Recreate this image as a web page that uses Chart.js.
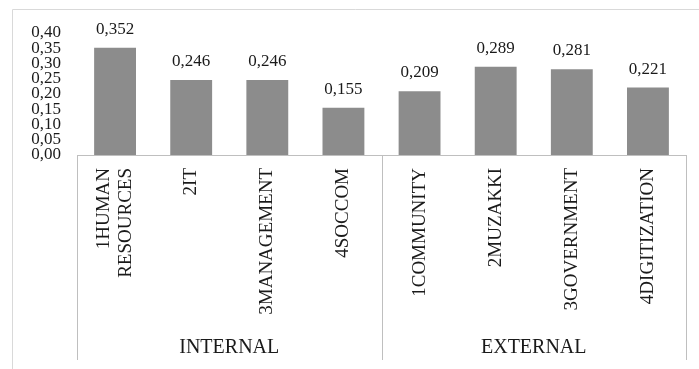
<!DOCTYPE html>
<html>
<head>
<meta charset="utf-8">
<script src="https://cdn.jsdelivr.net/npm/chart.js@4"></script>
<style>
  html, body { margin: 0; padding: 0; background: #fff; }
  canvas { display: block; }
</style>
</head>
<body>
<canvas id="grafico" width="699" height="369"></canvas>
<script>
var categorias = [["1HUMAN", "RESOURCES"], "2IT", "3MANAGEMENT", "4SOCCOM",
                  "1COMMUNITY", "2MUZAKKI", "3GOVERNMENT", "4DIGITIZATION"];
var valores = [0.352, 0.246, 0.246, 0.155, 0.209, 0.289, 0.281, 0.221];
var grupos = ["INTERNAL", "EXTERNAL"];
var tamanoGrupo = [4, 4];
var ticksY = [0, 0.05, 0.10, 0.15, 0.20, 0.25, 0.30, 0.35, 0.40];

var fuente = "'Liberation Serif', 'Times New Roman', serif";

function coma(v, dec) {
    return v.toFixed(dec).replace(".", ",");
}

// etiquetas de valor, categorias giradas y cajas de grupos
var extras = {
    id: "extras",
    afterDraw: function (chart) {
        var c = chart.ctx;
        var x = chart.scales.x;
        var area = chart.chartArea;
        c.save();

        // marco exterior
        c.strokeStyle = "#d9d9d9";
        c.lineWidth = 1;
        c.beginPath();
        c.moveTo(12.5, 369);
        c.lineTo(12.5, 9.5);
        c.lineTo(699, 9.5);
        c.stroke();

        // valores
        c.fillStyle = "#1a1a1a";
        c.font = "17px " + fuente;
        c.textAlign = "center";
        c.textBaseline = "alphabetic";
        chart.getDatasetMeta(0).data.forEach(function (bar, i) {
            c.fillText(coma(valores[i], 3), bar.x, bar.y - 14);
        });

        // categorias (giradas 90 grados)
        c.font = "19px " + fuente;
        c.textAlign = "right";
        c.textBaseline = "middle";
        categorias.forEach(function (lab, i) {
            var lineas = Array.isArray(lab) ? lab : [lab];
            c.save();
            c.translate(x.getPixelForValue(i), area.bottom + 13);
            c.rotate(-Math.PI / 2);
            lineas.forEach(function (t, j) {
                c.fillText(t, 0, (j - (lineas.length - 1) / 2) * 22);
            });
            c.restore();
        });

        // separadores y nombres de grupo
        c.strokeStyle = "#bfbfbf";
        c.beginPath();
        var paso = x.getPixelForValue(1) - x.getPixelForValue(0);
        var inicio = 0;
        var bordes = [];
        for (var g = 0; g <= grupos.length; g++) {
            bordes.push(x.getPixelForValue(inicio) - paso / 2);
            if (g < grupos.length) inicio += tamanoGrupo[g];
        }
        bordes.forEach(function (px) {
            var xx = Math.round(px) + 0.5;
            c.moveTo(xx, area.bottom);
            c.lineTo(xx, 360);
        });
        c.stroke();

        c.font = "20px " + fuente;
        c.textAlign = "center";
        for (var k = 0; k < grupos.length; k++) {
            c.fillText(grupos[k], (bordes[k] + bordes[k + 1]) / 2, 348);
        }
        c.restore();
    }
};

var myBarChart = new Chart(document.getElementById("grafico"), {
    type: "bar",
    data: {
        labels: categorias,
        datasets: [{
            label: "valor",
            data: valores,
            backgroundColor: "#8c8c8c",
            borderWidth: 0,
            barPercentage: 0.55,
            categoryPercentage: 1
        }]
    },
    options: {
        responsive: false,
        animation: false,
        devicePixelRatio: 1,
        layout: { padding: { top: 33, right: 13, left: 0, bottom: 0 } },
        plugins: {
            legend: { display: false },
            tooltip: { enabled: false }
        },
        scales: {
            x: {
                grid: { display: false, drawTicks: false },
                border: { display: true, color: "#bfbfbf", width: 1 },
                ticks: { display: false, autoSkip: false },
                afterFit: function (s) { s.height = 214; }
            },
            y: {
                min: 0,
                max: 0.4,
                grid: { display: false, drawTicks: false },
                border: { display: false },
                afterBuildTicks: function (s) {
                    s.ticks = ticksY.map(function (v) { return { value: v }; });
                },
                ticks: {
                    autoSkip: false,
                    padding: 16,
                    color: "#1a1a1a",
                    font: { family: fuente, size: 17, lineHeight: 1 },
                    callback: function (v) { return coma(v, 2); }
                },
                afterFit: function (s) { s.width = 77; }
            }
        }
    },
    plugins: [extras]
});
</script>
</body>
</html>
